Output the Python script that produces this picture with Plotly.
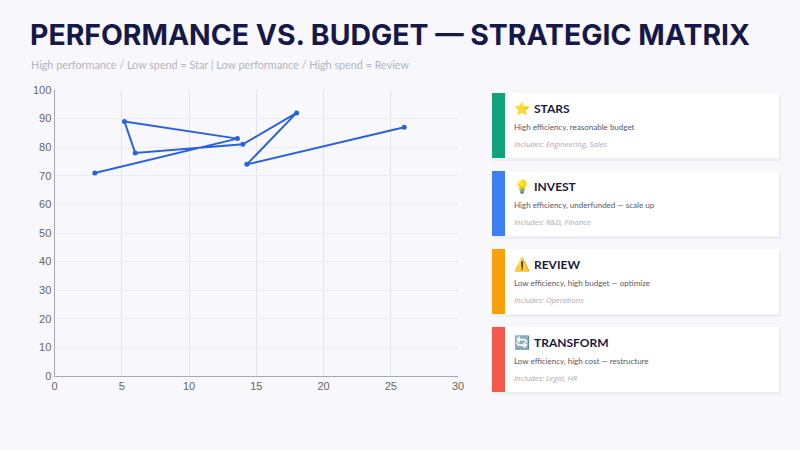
import plotly.graph_objects as go

# spend (% of budget) vs performance score, in chart order
budget = [3.0, 13.6, 5.2, 6.0, 14.0, 18.0, 14.3, 26.0]
performance = [71, 83, 89, 78, 81, 92, 74, 87]

card_titles = ["STARS", "INVEST", "REVIEW", "TRANSFORM"]
card_icons = ["⭐", "💡", "⚠️", "🔄"]
card_desc = [
    "High efficiency, reasonable budget",
    "High efficiency, underfunded — scale up",
    "Low efficiency, high budget — optimize",
    "Low efficiency, high cost — restructure",
]
card_incl = [
    "Includes: Engineering, Sales",
    "Includes: R&D, Finance",
    "Includes: Operations",
    "Includes: Legal, HR",
]
card_colors = ["#12a37c", "#3b7ff2", "#f8a10e", "#f4584a"]

W, H = 800, 450


def px(x):
    return x / W


def py(y):
    return 1 - y / H


def label(text, x, y, size, color, family="Lato"):
    return dict(text=text, x=px(x), y=py(y), xref="paper", yref="paper",
                xanchor="left", yanchor="middle", showarrow=False,
                font=dict(family=family, size=size, color=color))


fig = go.Figure()
fig.add_trace(go.Scatter(
    x=budget, y=performance, mode="lines+markers",
    line=dict(color="#2a62da", width=2),
    marker=dict(color="#2a62da", size=5),
    hoverinfo="x+y", showlegend=False,
))

shapes = []
annotations = [
    label("<b>PERFORMANCE VS. BUDGET — STRATEGIC MATRIX</b>", 28, 35, 28.4, "#17184a", "Inter"),
    label("High performance / Low spend = Star | Low performance / High spend = Review",
          29, 65, 10.8, "#b3b4bf"),
]

top = 93
for i in range(4):
    y0 = top + i * 78
    y1 = y0 + 65
    # soft shadow
    shapes.append(dict(type="rect", xref="paper", yref="paper", layer="below",
                       x0=px(494), x1=px(781), y0=py(y1 + 3), y1=py(y0 + 2),
                       fillcolor="rgba(40,40,80,0.05)", line_width=0))
    shapes.append(dict(type="rect", xref="paper", yref="paper", layer="below",
                       x0=px(492), x1=px(779), y0=py(y1), y1=py(y0),
                       fillcolor="white", line_width=0))
    shapes.append(dict(type="rect", xref="paper", yref="paper", layer="above",
                       x0=px(492), x1=px(505), y0=py(y1), y1=py(y0),
                       fillcolor=card_colors[i], line_width=0))
    annotations.append(label(card_icons[i], 512, y0 + 15, 13, "#17184a"))
    annotations.append(label("<b>" + card_titles[i] + "</b>", 532, y0 + 15, 12, "#1b1a40"))
    annotations.append(label(card_desc[i], 512, y0 + 34, 8, "#55566a"))
    annotations.append(label("<i>" + card_incl[i] + "</i>", 512, y0 + 51, 7.7, "#a9aab5",
                             "Open Sans"))

fig.update_layout(
    width=W, height=H,
    margin=dict(l=0, r=0, t=0, b=0),
    paper_bgcolor="#f8f8fc",
    plot_bgcolor="#f8f8fc",
    font=dict(family="Liberation Sans", size=11, color="#666666"),
    shapes=shapes,
    annotations=annotations,
    xaxis=dict(domain=[px(54.5), px(458)], range=[0, 30], dtick=5,
               showgrid=True, gridcolor="#e3e3ea", zeroline=False,
               showline=True, linecolor="#a8a8b0", linewidth=1,
               ticks="", tickfont=dict(size=11, color="#666666"), automargin=False),
    yaxis=dict(domain=[py(376), py(90)], range=[0, 100], dtick=10,
               showgrid=True, gridcolor="#ececf2", zeroline=False,
               showline=True, linecolor="#a8a8b0", linewidth=1,
               ticks="", tickfont=dict(size=11, color="#666666"), automargin=False),
)

fig.write_html("out.html", post_script="document.body.style.margin='0';",
               config={"displayModeBar": False})
